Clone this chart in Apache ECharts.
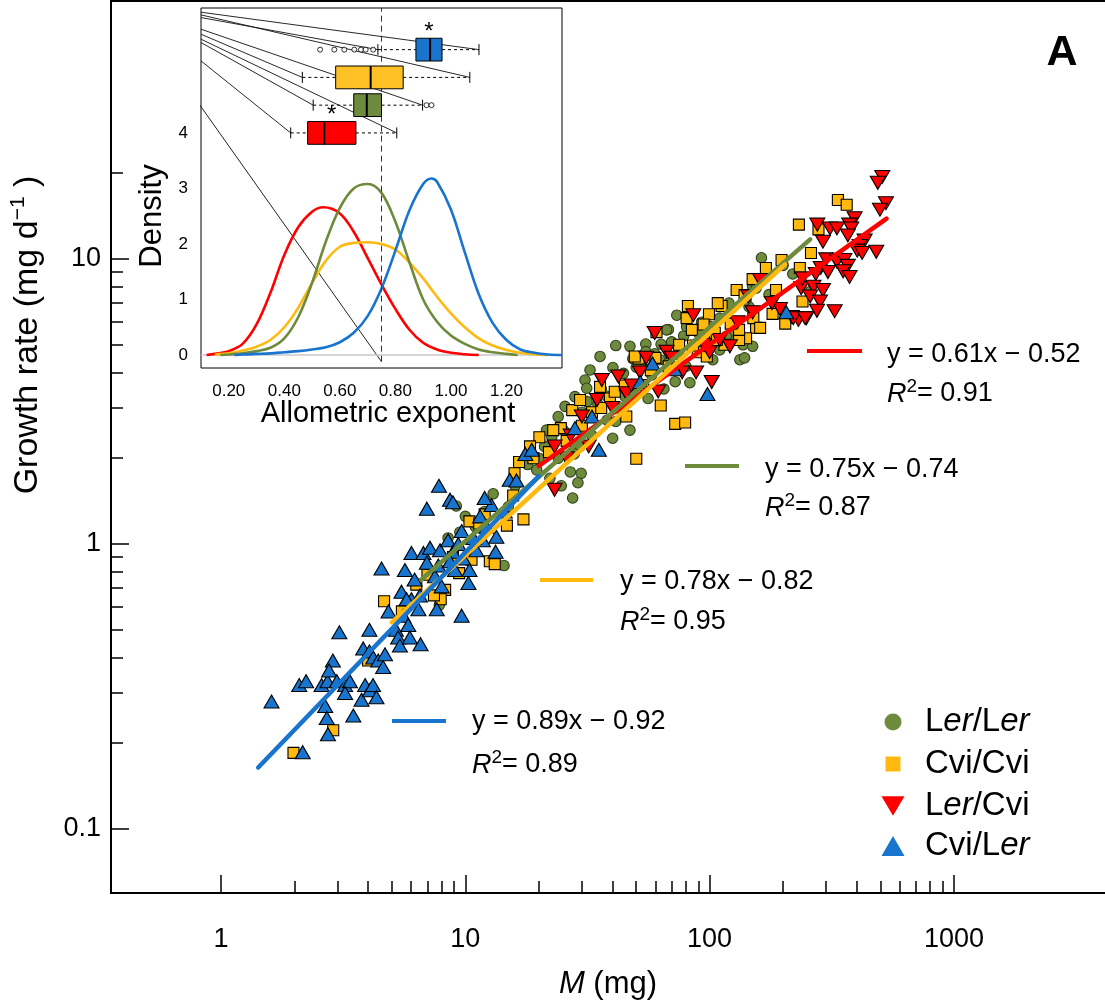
<!DOCTYPE html>
<html><head><meta charset="utf-8">
<script src="https://cdn.jsdelivr.net/npm/echarts@6/dist/echarts.min.js"></script>
<style>html,body{margin:0;padding:0;background:#fff}#c{width:1105px;height:1000px}</style>
</head><body><div id="c"></div>
<script>
// ---------------- DATA (main panel A): [M (mg), growth rate (mg/d)] ----------------
const lerLer = [[163,10.1],[219,8.86],[258,7.69],[73.4,6.35],[67.8,5.66],[78.3,5.37],[41.3,4.97],[47.2,4.94],[54.8,5.03],[63.3,5.02],[69.9,5.12],[54.8,4.73],[59.6,4.65],[62.7,4.43],[67.8,4.31],[57.9,3.92],[72.3,3.71],[83,3.68],[133,4.43],[139,4.5],[137,5.0],[103,4.43],[40.2,4.16],[48.5,4.47],[56,3.24],[47.2,2.51],[40.1,2.35],[31.5,3.16],[34.9,3.09],[38.1,2.72],[41.3,2.69],[29.5,2.2],[27.9,2.07],[26.9,1.79],[29.8,1.77],[28.9,1.64],[22.6,2.38],[21.1,2.2],[25.2,2.51],[19.6,1.82],[22.2,1.7],[24.7,1.6],[27.5,1.45],[9.18,1.36],[14.4,0.84],[7.83,0.61],[95,6.0],[110,6.2],[120,7.0],[145,6.8],[150,8.0],[175,7.5],[200,9.5],[90,5.5],[100,5.8],[125,5.5],[88,5.0],[50,3.6],[45,3.3],[36,3.5],[33,2.4],[18,1.9],[16,1.6],[12,1.3],[11,1.15],[10,1.25],[13,1.5],[15,1.35],[8.5,1.05],[9.5,1.1],[20,2.0],[24,2.0],[30,2.9],[52,4.2],[65,3.5],[80,4.2],[110,4.8],[120,5.2],[75,4.6],[42,3.0],[38,3.3],[35.6,4.55],[32.4,4.08],[30.9,3.76],[31.4,3.52],[28.1,3.29],[25.6,3.04],[24.0,2.8],[21.5,2.51],[44.4,3.97],[50.1,4.17],[66.6,5.64],[80.5,5.79],[92.7,6.0],[103,5.54],[117,5.35],[150,4.94],[141,7.18],[155,7.9]];
const cviCvi = [[1.98,0.185],[2.88,0.222],[4.0,0.39],[4.65,0.63],[10.4,1.2],[12.0,1.27],[11.4,1.18],[14.8,1.16],[17.3,1.22],[12.6,0.87],[13.2,0.85],[10.6,0.88],[9.44,0.79],[8.27,0.69],[7.93,0.64],[7.44,0.66],[335,16.1],[364,15.5],[232,13.2],[279,12.7],[260,10.5],[197,9.92],[234,9.3],[129,7.78],[139,7.47],[187,7.78],[240,7.09],[181,6.42],[204,5.93],[155,5.74],[151,6.2],[141,5.27],[132,5.2],[132,5.64],[122,5.93],[112,6.84],[108,7.0],[99.4,6.4],[94.5,5.89],[89.4,4.71],[81.5,6.84],[84.6,5.64],[85.5,4.97],[51.2,4.47],[57.5,4.07],[72.3,2.64],[79.4,2.67],[63.1,3.06],[45.6,2.8],[50.1,1.99],[39.1,3.24],[40.9,3.42],[27.4,2.95],[24.6,2.55],[20.1,2.37],[16.6,1.94],[15.9,1.77],[15.7,1.48],[161,5.73],[30,2.6],[33,2.9],[36,3.0],[22,2.1],[26,2.3],[19,2.0],[45,3.6],[60,4.5],[68,4.2],[75,5.0],[95,5.2],[105,5.5],[115,5.0],[170,9.3],[150,8.5],[6.3,0.72],[7.0,0.78],[8.9,0.9],[5.5,0.58],[80.5,6.2],[97.4,4.55],[107,5.2],[60.6,5.54],[49.4,4.55],[53.3,3.61],[35.6,3.56],[29.5,3.2],[22.9,2.51],[18.4,2.2]];
const lerCvi = [[509,19.4],[488,18.5],[527,15.7],[498,14.9],[392,13.9],[373,13.2],[276,13.2],[311,12.8],[332,12.8],[380,12.8],[368,12.1],[291,11.5],[431,11.6],[411,11.1],[402,10.7],[421,10.5],[481,10.6],[300,9.97],[332,9.8],[356,9.92],[368,9.46],[285,9.3],[272,8.86],[352,9.05],[374,8.65],[237,7.9],[266,7.99],[291,7.78],[258,7.39],[283,7.09],[275,6.58],[325,6.56],[249,6.2],[231,6.11],[217,6.26],[194,6.68],[161,8.44],[144,7.39],[121,4.94],[100,4.71],[85.8,6.35],[88,4.0],[102,3.7],[77.2,4.0],[59.6,5.5],[66.6,4.73],[51.9,4.0],[61.6,3.43],[36.2,3.76],[42.3,3.87],[45.6,3.38],[34.6,3.2],[23.2,2.2],[23.2,1.55],[305,9.0],[220,6.2],[246,6.2],[240,8.55],[180,7.0],[130,6.0],[110,5.2],[95,5.0],[150,6.5],[70,4.5],[55,4.5],[30,2.8],[27,2.4],[40,3.0],[26,2.0],[32,2.2],[48,3.6]];
const cviLer = [[1.61,0.28],[2.16,0.186],[2.09,0.32],[2.23,0.33],[2.58,0.32],[2.73,0.33],[2.87,0.39],[2.77,0.36],[2.67,0.27],[2.71,0.245],[2.74,0.215],[2.98,0.33],[3.22,0.32],[3.37,0.33],[3.22,0.30],[3.48,0.25],[3.76,0.284],[3.89,0.32],[4.07,0.307],[4.19,0.32],[4.33,0.29],[3.05,0.49],[4.05,0.50],[3.82,0.43],[4.05,0.42],[4.20,0.40],[4.40,0.39],[4.61,0.37],[4.69,0.41],[4.54,0.82],[4.85,0.58],[5.20,0.50],[5.31,0.47],[5.40,0.44],[5.57,0.56],[5.84,0.52],[5.93,0.47],[6.56,0.445],[6.02,0.64],[6.43,0.59],[5.48,0.68],[5.75,0.64],[5.66,0.81],[6.02,0.93],[6.20,0.75],[6.52,0.66],[6.74,0.93],[7.17,0.97],[6.96,0.86],[7.51,0.77],[7.75,0.84],[7.88,0.95],[8.50,1.03],[8.91,0.94],[8.66,0.87],[9.36,1.0],[9.66,1.11],[9.81,0.89],[10.3,0.73],[7.64,0.59],[9.66,0.56],[8.0,0.71],[9.07,0.81],[10.4,0.81],[11.1,0.95],[11.8,1.03],[12.8,1.37],[13.4,1.06],[13.3,0.94],[6.96,1.33],[8.66,1.43],[7.8,1.6],[8.9,1.4],[15.2,1.68],[16.2,1.67],[17.6,2.07],[18.7,2.14],[28.1,2.55],[33,2.8],[35.2,2.14],[52,3.7],[58.4,4.3],[72,4.1],[98,3.36],[206,6.5],[11.5,1.25],[12.2,1.15],[14.5,1.3],[10.8,1.05],[12,1.45]];

// Fitted log-log regressions (log10 G = a log10 M + b)
const fitGroups = ['Ler/Cvi','Ler/Ler','Cvi/Cvi','Cvi/Ler'];
const fitSlopes = [0.61, 0.75, 0.78, 0.89];
const fitIntercepts = [-0.52, -0.74, -0.82, -0.92];
const fitFrom = [20, 6.6, 5.0, 1.42];
const fitTo = [530, 258, 204, 20];
const fitR2 = ['0.91', '0.87', '0.95', '0.89'];

// Axis ticks
const xMajorTicks = [1, 10, 100, 1000];
const xMinorTicks = [2,3,4,5,6,7,8,9,20,30,40,50,60,70,80,90,200,300,400,500,600,700,800,900];
const yMajorTicks = [0.1, 1, 10];
const yMinorTicks = [0.2,0.3,0.4,0.5,0.6,0.7,0.8,0.9,2,3,4,5,6,7,8,9,20];

// ---------------- DATA (inset B) ----------------
const densRed = [[0.12,0],[0.15,0.02],[0.20,0.07],[0.25,0.2],[0.30,0.55],[0.35,1.12],[0.40,1.8],[0.45,2.3],[0.50,2.58],[0.54,2.66],[0.60,2.55],[0.65,2.22],[0.70,1.75],[0.75,1.27],[0.80,0.83],[0.85,0.46],[0.90,0.22],[0.95,0.1],[1.00,0.04],[1.05,0.015],[1.10,0]];
const densGreen = [[0.17,0],[0.20,0.01],[0.25,0.03],[0.30,0.07],[0.35,0.13],[0.40,0.3],[0.45,0.68],[0.50,1.3],[0.55,2.05],[0.60,2.65],[0.65,3.0],[0.70,3.08],[0.75,2.92],[0.80,2.4],[0.85,1.68],[0.90,1.0],[0.95,0.6],[1.00,0.35],[1.05,0.2],[1.10,0.1],[1.15,0.05],[1.20,0.02],[1.24,0]];
const densYellow = [[0.15,0.01],[0.20,0.03],[0.25,0.08],[0.30,0.15],[0.35,0.27],[0.40,0.5],[0.45,0.85],[0.50,1.3],[0.55,1.7],[0.60,1.95],[0.65,2.02],[0.70,2.03],[0.75,2.0],[0.80,1.9],[0.85,1.67],[0.90,1.38],[0.95,1.05],[1.00,0.75],[1.05,0.5],[1.10,0.3],[1.15,0.17],[1.20,0.09],[1.25,0.04],[1.30,0.015],[1.35,0]];
const densBlue = [[0.22,0],[0.25,0.01],[0.30,0.02],[0.35,0.03],[0.40,0.05],[0.45,0.07],[0.50,0.1],[0.55,0.14],[0.60,0.23],[0.65,0.4],[0.70,0.7],[0.75,1.2],[0.80,1.88],[0.85,2.6],[0.90,3.08],[0.93,3.18],[0.95,3.12],[1.00,2.62],[1.05,1.85],[1.10,1.1],[1.15,0.58],[1.20,0.27],[1.25,0.1],[1.30,0.04],[1.35,0.01],[1.40,0]];

const boxGroups = ['Cvi/Ler','Cvi/Cvi','Ler/Ler','Ler/Cvi'];
const boxLevel = [5.5, 5.0, 4.5, 4.0];
const boxLo  = [0.737, 0.465, 0.504, 0.423];
const boxQ1  = [0.874, 0.585, 0.650, 0.484];
const boxMed = [0.925, 0.711, 0.697, 0.544];
const boxQ3  = [0.968, 0.828, 0.750, 0.658];
const boxHi  = [1.101, 1.068, 0.898, 0.805];
const boxSig = [true, false, false, true];
const outliersCviLer = [0.529, 0.580, 0.616, 0.652, 0.676, 0.693, 0.720];
const outliersLerLer = [0.912, 0.930];
const refExponent = 0.75;
const insetXTicks = [0.2,0.3,0.4,0.5,0.6,0.7,0.8,0.9,1.0,1.1,1.2];
const insetXLabels = [0.2,0.4,0.6,0.8,1.0,1.2];
const insetYTicks = [0,1,2,3,4];
// stray connector lines of the original figure: [start density at left edge, box index, 0=low whisker / 1=high whisker]
const strayLines = [[6.174,0,1],[6.126,1,1],[6.078,0,0],[5.868,2,1],[5.778,1,0],[5.688,3,1],[5.628,2,0],[5.297,3,0]];
const strayDiagonal = [[-0.173, 6.4], [0.75, -0.12]];

// ---------------- STYLE ----------------
const F = 'Liberation Sans, Arial, Helvetica, sans-serif';
const COL = {'Ler/Ler':'#6E8B3D','Cvi/Cvi':'#FFB90F','Ler/Cvi':'#FF0000','Cvi/Ler':'#1874CD'};
const BOXCOL = ['#1874CD','#FFC125','#6E8B3D','#FF0000'];
const DOWN = 'path://M0,0L20,0L10,17Z';

// main axes extents (log)
const xMin = 0.3546, xMax = 4354, yMin = 0.05962, yMax = 80.4;

function fitLine(i) {
  const f = m => Math.pow(10, fitSlopes[i] * Math.log10(m) + fitIntercepts[i]);
  return [[fitFrom[i], f(fitFrom[i])], [fitTo[i], f(fitTo[i])]];
}
function nameRich(n) {
  return n.split('/').map(p => p === 'Ler' ? '{n|L}{i|er}' : '{n|' + p + '}').join('{n|/}');
}
const legRich = {
  n: {fontSize: 33, fontFamily: F, color: '#000', lineHeight: 38},
  i: {fontSize: 33, fontFamily: F, color: '#000', fontStyle: 'italic', lineHeight: 38}
};

const series = [];
const scat = [['Ler/Ler', lerLer, 'circle', 10.5, '#33421c'], ['Cvi/Cvi', cviCvi, 'rect', 11, '#000'], ['Ler/Cvi', lerCvi, DOWN, [15,13], '#000'], ['Cvi/Ler', cviLer, 'triangle', [15,13], '#000']];
scat.forEach(s => series.push({
  name: s[0], type: 'scatter', xAxisIndex: 0, yAxisIndex: 0, data: s[1], symbol: s[2], symbolSize: s[3],
  itemStyle: {color: COL[s[0]], borderColor: s[4], borderWidth: 1.1, opacity: 1}, z: 2, silent: true
}));
fitGroups.forEach((g, i) => series.push({
  type: 'line', xAxisIndex: 0, yAxisIndex: 0, data: fitLine(i), symbol: 'none',
  lineStyle: {color: COL[g], width: 4.5, cap: 'round'}, z: 4, silent: true
}));

// inset series
series.push({type: 'line', xAxisIndex: 2, yAxisIndex: 2, data: strayDiagonal, symbol: 'none', clip: false,
  lineStyle: {color: '#222', width: 1}, z: 3, silent: true});
series.push({type: 'line', xAxisIndex: 2, yAxisIndex: 2, data: [[0.1, 0], [1.4, 0]], symbol: 'none',
  lineStyle: {color: '#c8c8c8', width: 1.5}, z: 3, silent: true});
[['Ler/Cvi', densRed], ['Cvi/Cvi', densYellow], ['Ler/Ler', densGreen], ['Cvi/Ler', densBlue]].forEach(d => series.push({
  type: 'line', xAxisIndex: 2, yAxisIndex: 2, data: d[1], symbol: 'none', smooth: 0.35,
  lineStyle: {color: COL[d[0]], width: 2.6}, z: 4, silent: true
}));
series.push({type: 'line', xAxisIndex: 2, yAxisIndex: 2, data: [[refExponent, -0.12], [refExponent, 6.25]], symbol: 'none',
  lineStyle: {color: '#333', width: 1, type: [6, 4]}, z: 5, silent: true});
series.push({
  type: 'custom', xAxisIndex: 2, yAxisIndex: 2, silent: true, z: 5,
  data: strayLines, encode: {x: 1, y: 0},
  renderItem: (params, api) => {
    const r = strayLines[params.dataIndex];
    const p0 = api.coord([0.1, r[0]]);
    const p1 = api.coord([r[2] ? boxHi[r[1]] : boxLo[r[1]], boxLevel[r[1]]]);
    return {type: 'line', shape: {x1: p0[0], y1: p0[1], x2: p1[0], y2: p1[1]}, style: {stroke: '#111', lineWidth: 0.9}};
  }
});
series.push({
  type: 'custom', xAxisIndex: 2, yAxisIndex: 2, silent: true, z: 6,
  data: boxLevel.map((l, i) => [l, boxLo[i], boxQ1[i], boxMed[i], boxQ3[i], boxHi[i]]),
  encode: {x: [1, 2, 3, 4, 5], y: 0},
  renderItem: (params, api) => {
    const i = params.dataIndex, lvl = api.value(0);
    const p = [1, 2, 3, 4, 5].map(d => api.coord([api.value(d), lvl]));
    const h = api.size([0, 0.41])[1];
    const cy = p[0][1], cap = 5.5;
    const dash = {stroke: '#000', lineWidth: 1, lineDash: [3, 3]};
    const solid = {stroke: '#000', lineWidth: 1};
    const ch = [
      {type: 'line', shape: {x1: p[0][0], y1: cy, x2: p[1][0], y2: cy}, style: dash},
      {type: 'line', shape: {x1: p[3][0], y1: cy, x2: p[4][0], y2: cy}, style: dash},
      {type: 'line', shape: {x1: p[0][0], y1: cy - cap, x2: p[0][0], y2: cy + cap}, style: solid},
      {type: 'line', shape: {x1: p[4][0], y1: cy - cap, x2: p[4][0], y2: cy + cap}, style: solid},
      {type: 'rect', shape: {x: p[1][0], y: cy - h / 2, width: p[3][0] - p[1][0], height: h}, style: {fill: BOXCOL[i], stroke: '#000', lineWidth: 1}},
      {type: 'line', shape: {x1: p[2][0], y1: cy - h / 2, x2: p[2][0], y2: cy + h / 2}, style: {stroke: '#000', lineWidth: 2}}
    ];
    if (boxSig[i]) ch.push({type: 'text', x: (p[1][0] + p[3][0]) / 2, y: cy - h / 2 - 6,
      style: {text: '*', fontSize: 24, fontFamily: F, fill: '#000', align: 'center', verticalAlign: 'middle'}});
    return {type: 'group', children: ch};
  }
});
series.push({type: 'scatter', xAxisIndex: 2, yAxisIndex: 2, silent: true, z: 6,
  data: outliersCviLer.map(v => [v, boxLevel[0]]).concat(outliersLerLer.map(v => [v, boxLevel[2]])),
  symbol: 'circle', symbolSize: 5, itemStyle: {color: '#fff', borderColor: '#000', borderWidth: 1}});

// legends (one per group for individual icon sizes)
const legDefs = [
  ['Ler/Ler', 'circle', 17, 17, 722],
  ['Cvi/Cvi', 'rect', 15, 15, 764],
  ['Ler/Cvi', DOWN, 23, 20, 806],
  ['Cvi/Ler', 'triangle', 23, 20, 846]
];
const legends = legDefs.map(d => ({
  data: [{name: d[0], icon: d[1]}], orient: 'vertical', selectedMode: false, padding: 0,
  left: 893 - d[2] / 2, top: d[4] - 19, itemWidth: d[2], itemHeight: d[3],
  itemStyle: {borderWidth: 0},
  formatter: nameRich,
  textStyle: {fontSize: 33, fontFamily: F, lineHeight: 38, color: '#000', padding: [0, 0, 0, 27 - d[2] / 2], rich: legRich}
}));

// annotation graphics
const eqLayout = [ // segment x1, x2, y, text x, eq y, r2 y
  [807, 862, 351, 887, 355, 394],
  [685, 739, 466, 765, 470, 508],
  [540, 593, 580, 620, 582, 622],
  [392, 446, 721, 472, 722, 765]
];
const eqRich = {
  n: {fontSize: 27, fontFamily: F, color: '#000', lineHeight: 34},
  ri: {fontSize: 27, fontFamily: F, color: '#000', fontStyle: 'italic', lineHeight: 34},
  s: {fontSize: 19, fontFamily: F, color: '#000', lineHeight: 18, verticalAlign: 'top'}
};
const graphics = [];
fitGroups.forEach((g, i) => {
  const L = eqLayout[i];
  const sign = fitIntercepts[i] < 0 ? '\u2212 ' : '+ ';
  graphics.push({type: 'line', shape: {x1: L[0], y1: L[2], x2: L[1], y2: L[2]}, style: {stroke: COL[g], lineWidth: 4}});
  graphics.push({type: 'text', x: L[3], y: L[4], style: {text: 'y = ' + fitSlopes[i].toFixed(2) + 'x ' + sign + Math.abs(fitIntercepts[i]).toFixed(2),
    fontSize: 27, fontFamily: F, fill: '#000', align: 'left', verticalAlign: 'middle'}});
  graphics.push({type: 'text', x: L[3], y: L[5], style: {text: '{ri|R}{s|2}{n|= ' + fitR2[i] + '}', rich: eqRich, align: 'left', verticalAlign: 'middle'}});
});
graphics.push({type: 'text', x: 1062, y: 53, style: {text: 'A', fontSize: 43, fontWeight: 'bold', fontFamily: F, fill: '#000', align: 'center', verticalAlign: 'middle'}});
graphics.push({type: 'text', x: 532, y: 43, style: {text: 'B', fontSize: 39, fontWeight: 'bold', fontFamily: F, fill: '#000', align: 'center', verticalAlign: 'middle'}});
graphics.push({type: 'text', x: 28, y: 335, rotation: Math.PI / 2, style: {
  text: '{n|Growth rate (mg d}{s|\u22121}{n| )}', align: 'center', verticalAlign: 'middle',
  rich: {n: {fontSize: 34, fontFamily: F, color: '#000', lineHeight: 40}, s: {fontSize: 21, fontFamily: F, color: '#000', lineHeight: 22, verticalAlign: 'top'}}}});
graphics.push({type: 'text', x: 608, y: 984, style: {
  text: '{i|M}{n| (mg)}', align: 'center', verticalAlign: 'middle',
  rich: {n: {fontSize: 31, fontFamily: F, color: '#000'}, i: {fontSize: 31, fontFamily: F, color: '#000', fontStyle: 'italic'}}}});
graphics.push({type: 'text', x: 152, y: 216, rotation: Math.PI / 2, style: {text: 'Density', fontSize: 31, fontFamily: F, fill: '#000', align: 'center', verticalAlign: 'middle'}});
graphics.push({type: 'text', x: 388, y: 414, style: {text: 'Allometric exponent', fontSize: 29, fontFamily: F, fill: '#000', align: 'center', verticalAlign: 'middle'}});

const logAxisCommon = {type: 'log', logBase: 10, splitLine: {show: false}, axisLine: {show: false}};
const option = {
  animation: false,
  backgroundColor: '#fff',
  grid: [
    {left: 111, top: 1, right: -5, bottom: 107, show: true, borderColor: '#000', borderWidth: 2, backgroundColor: 'transparent', containLabel: false, outerBoundsMode: 'none'},
    {left: 201, top: 8, width: 361, height: 360, show: true, borderColor: '#000', borderWidth: 1, backgroundColor: '#fff', containLabel: false, outerBoundsMode: 'none', z: 1}
  ],
  xAxis: [
    Object.assign({}, logAxisCommon, {gridIndex: 0, position: 'bottom', offset: 0, min: xMin, max: xMax,
      axisTick: {show: true, inside: true, length: 18, lineStyle: {color: '#000', width: 1.5}, customValues: xMajorTicks},
      axisLabel: {show: true, customValues: xMajorTicks, margin: 33, fontSize: 27, fontFamily: F, color: '#000', formatter: v => String(Math.round(v))}}),
    Object.assign({}, logAxisCommon, {gridIndex: 0, position: 'bottom', offset: 0, min: xMin, max: xMax,
      axisTick: {show: true, inside: true, length: 12, lineStyle: {color: '#000', width: 1.5}, customValues: xMinorTicks},
      axisLabel: {show: false}}),
    {type: 'value', gridIndex: 1, position: 'bottom', min: 0.1, max: 1.4, splitLine: {show: false}, axisLine: {show: false},
      axisTick: {show: true, inside: true, length: 6, lineStyle: {color: '#000', width: 1}, customValues: insetXTicks},
      axisLabel: {show: true, customValues: insetXLabels, margin: 15, fontSize: 17, fontFamily: F, color: '#000', formatter: v => v.toFixed(2)}}
  ],
  yAxis: [
    Object.assign({}, logAxisCommon, {gridIndex: 0, position: 'left', offset: 0, min: yMin, max: yMax,
      axisTick: {show: true, inside: true, length: 18, lineStyle: {color: '#000', width: 1.5}, customValues: yMajorTicks},
      axisLabel: {show: true, customValues: yMajorTicks, margin: 10, fontSize: 27, fontFamily: F, color: '#000', formatter: v => (v < 1 ? v.toFixed(1) : String(Math.round(v)))}}),
    Object.assign({}, logAxisCommon, {gridIndex: 0, position: 'left', offset: 0, min: yMin, max: yMax,
      axisTick: {show: true, inside: true, length: 12, lineStyle: {color: '#000', width: 1.5}, customValues: yMinorTicks},
      axisLabel: {show: false}}),
    {type: 'value', gridIndex: 1, position: 'left', min: -0.234, max: 6.25, splitLine: {show: false}, axisLine: {show: false},
      axisTick: {show: true, inside: true, length: 6, lineStyle: {color: '#000', width: 1}, customValues: insetYTicks},
      axisLabel: {show: true, customValues: insetYTicks, margin: 13, fontSize: 17, fontFamily: F, color: '#000'}}
  ],
  legend: legends,
  graphic: graphics,
  series: series
};
const chart = echarts.init(document.getElementById('c'), null, {renderer: 'canvas', width: 1105, height: 1000});
chart.setOption(option);
</script>
</body></html>
